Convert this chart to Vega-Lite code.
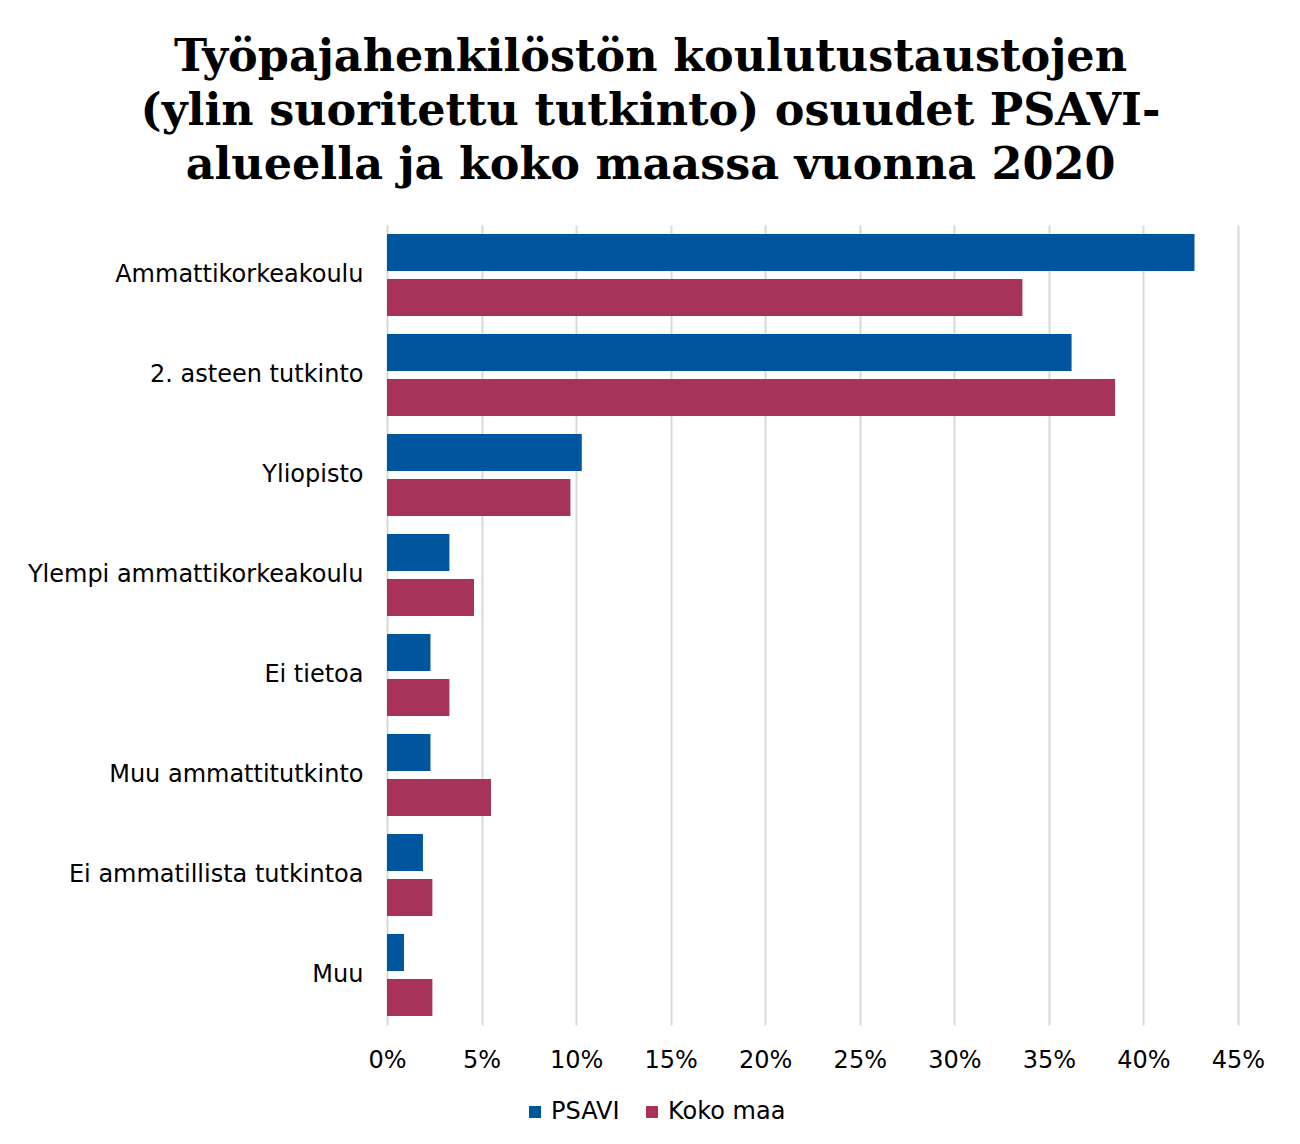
{
  "$schema": "https://vega.github.io/schema/vega-lite/v6.json",
  "width": 851,
  "height": 800,
  "autosize": {"type": "none"},
  "padding": {"left": 387, "top": 225, "right": 62, "bottom": 119},
  "background": "white",
  "title": {
    "text": ["Työpajahenkilöstön koulutustaustojen", "(ylin suoritettu tutkinto) osuudet PSAVI-", "alueella ja koko maassa vuonna 2020"],
    "font": "DejaVu Serif",
    "fontSize": 44.5,
    "fontWeight": "bold",
    "lineHeight": 54,
    "color": "#000000",
    "anchor": "middle",
    "dx": -162,
    "offset": 37
  },
  "data": {
    "values": [
      {"cat": "Ammattikorkeakoulu", "series": "PSAVI", "value": 0.427},
      {"cat": "Ammattikorkeakoulu", "series": "Koko maa", "value": 0.336},
      {"cat": "2. asteen tutkinto", "series": "PSAVI", "value": 0.362},
      {"cat": "2. asteen tutkinto", "series": "Koko maa", "value": 0.385},
      {"cat": "Yliopisto", "series": "PSAVI", "value": 0.103},
      {"cat": "Yliopisto", "series": "Koko maa", "value": 0.097},
      {"cat": "Ylempi ammattikorkeakoulu", "series": "PSAVI", "value": 0.033},
      {"cat": "Ylempi ammattikorkeakoulu", "series": "Koko maa", "value": 0.046},
      {"cat": "Ei tietoa", "series": "PSAVI", "value": 0.023},
      {"cat": "Ei tietoa", "series": "Koko maa", "value": 0.033},
      {"cat": "Muu ammattitutkinto", "series": "PSAVI", "value": 0.023},
      {"cat": "Muu ammattitutkinto", "series": "Koko maa", "value": 0.055},
      {"cat": "Ei ammatillista tutkintoa", "series": "PSAVI", "value": 0.019},
      {"cat": "Ei ammatillista tutkintoa", "series": "Koko maa", "value": 0.024},
      {"cat": "Muu", "series": "PSAVI", "value": 0.009},
      {"cat": "Muu", "series": "Koko maa", "value": 0.024}
    ]
  },
  "mark": {"type": "bar"},
  "encoding": {
    "y": {
      "field": "cat",
      "type": "nominal",
      "sort": null,
      "scale": {"paddingInner": 0.18, "paddingOuter": 0.09},
      "axis": {
        "title": null,
        "ticks": false,
        "domain": false,
        "grid": false,
        "labelFont": "DejaVu Sans",
        "labelFontSize": 24,
        "labelColor": "#000000",
        "labelPadding": 24,
        "labelLimit": 400
      }
    },
    "yOffset": {
      "field": "series",
      "type": "nominal",
      "sort": ["PSAVI", "Koko maa"],
      "scale": {"paddingInner": 0.178, "paddingOuter": 0}
    },
    "x": {
      "field": "value",
      "type": "quantitative",
      "scale": {"domain": [0, 0.45], "nice": false},
      "axis": {
        "title": null,
        "format": ".0%",
        "values": [0, 0.05, 0.1, 0.15, 0.2, 0.25, 0.3, 0.35, 0.4, 0.45],
        "ticks": false,
        "domain": false,
        "grid": true,
        "gridColor": "#D9D9D9",
        "gridWidth": 2,
        "labelFont": "DejaVu Sans",
        "labelFontSize": 24,
        "labelColor": "#000000",
        "labelPadding": 23,
        "labelFlush": false
      }
    },
    "color": {
      "field": "series",
      "type": "nominal",
      "sort": ["PSAVI", "Koko maa"],
      "scale": {"domain": ["PSAVI", "Koko maa"], "range": ["#00569E", "#A7325A"]},
      "legend": {
        "title": null,
        "orient": "none",
        "direction": "horizontal",
        "legendX": 136,
        "legendY": 875,
        "symbolType": "square",
        "symbolSize": 144,
        "symbolStrokeWidth": 0,
        "labelFont": "DejaVu Sans",
        "labelFontSize": 24,
        "labelColor": "#000000",
        "labelOffset": 4,
        "columnPadding": 20
      }
    }
  },
  "config": {
    "view": {"stroke": null}
  }
}
